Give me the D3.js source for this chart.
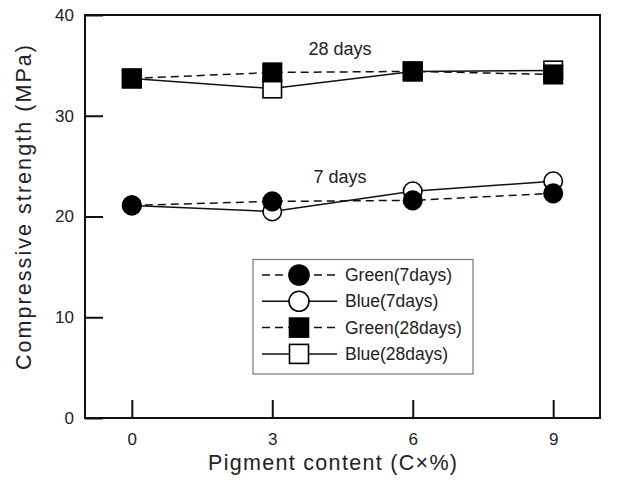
<!DOCTYPE html>
<html>
<head>
<script src="https://cdnjs.cloudflare.com/ajax/libs/d3/7.8.5/d3.min.js"></script>
<style>
  body { margin: 0; background: #fff; }
  svg { display: block; }
  text { font-family: "Liberation Sans", Arial, sans-serif; fill: #222; }
  .axis-title { font-size: 21.5px; }
  .note { font-size: 18px; }
  .legend-label { font-size: 17.5px; }
</style>
</head>
<body>
<svg id="chart" width="629" height="483"></svg>
<script>
const pigment = [0, 3, 6, 9];
const green7 = [21.1, 21.5, 21.6, 22.3];
const blue7 = [21.1, 20.5, 22.5, 23.5];
const green28 = [33.7, 34.3, 34.4, 34.1];
const blue28 = [33.7, 32.7, 34.4, 34.5];
const xTicks = [0, 3, 6, 9];
const yTicks = [0, 10, 20, 30, 40];

const series = [
  { name: 'Blue(28days)', values: blue28, shape: 'square', filled: false, dashed: false },
  { name: 'Blue(7days)', values: blue7, shape: 'circle', filled: false, dashed: false },
  { name: 'Green(28days)', values: green28, shape: 'square', filled: true, dashed: true },
  { name: 'Green(7days)', values: green7, shape: 'circle', filled: true, dashed: true }
];
const legendOrder = ['Green(7days)', 'Blue(7days)', 'Green(28days)', 'Blue(28days)'];

const svg = d3.select('#chart');
const mLeft = 85, mRight = 600, mTop = 15, mBottom = 418;

const x = d3.scaleLinear().domain([-1, 10]).range([mLeft, mRight]);
const y = d3.scaleLinear().domain([0, 40]).range([mBottom, mTop]);

// inward ticks
svg.append('g')
  .attr('transform', `translate(0, ${mBottom})`)
  .call(d3.axisBottom(x).tickValues(xTicks).tickSize(-18).tickPadding(15).tickFormat(d3.format('d')))
  .call(g => g.select('.domain').remove())
  .call(g => g.selectAll('line').attr('stroke', '#111').attr('stroke-width', 2))
  .call(g => g.selectAll('text').attr('fill', '#222').style('font-size', '17px')
    .style('font-family', '"Liberation Sans", Arial, sans-serif'));

svg.append('g')
  .attr('transform', `translate(${mLeft}, 0)`)
  .call(d3.axisLeft(y).tickValues(yTicks).tickSize(-18).tickPadding(11))
  .call(g => g.select('.domain').remove())
  .call(g => g.selectAll('line').attr('stroke', '#111').attr('stroke-width', 2))
  .call(g => g.selectAll('text').attr('fill', '#222').style('font-size', '17px')
    .style('font-family', '"Liberation Sans", Arial, sans-serif'));

// frame
svg.append('rect')
  .attr('x', mLeft).attr('y', mTop)
  .attr('width', mRight - mLeft).attr('height', mBottom - mTop)
  .attr('fill', 'none').attr('stroke', '#111').attr('stroke-width', 2);

const line = d3.line().x((d, i) => x(pigment[i])).y(d => y(d));

function drawMarker(g, s, cx, cy, size) {
  if (s.shape === 'circle') {
    g.append('circle').attr('cx', cx).attr('cy', cy).attr('r', size / 2)
      .attr('fill', s.filled ? '#000' : '#fff').attr('stroke', '#000').attr('stroke-width', 1.6);
  } else {
    g.append('rect').attr('x', cx - size / 2).attr('y', cy - size / 2)
      .attr('width', size).attr('height', size)
      .attr('fill', s.filled ? '#000' : '#fff').attr('stroke', '#000').attr('stroke-width', 1.6);
  }
}

const plot = svg.append('g');
series.forEach(s => {
  plot.append('path')
    .attr('d', line(s.values))
    .attr('fill', 'none')
    .attr('stroke', '#111')
    .attr('stroke-width', 1.5)
    .attr('stroke-dasharray', s.dashed ? '8,5' : null);
});
series.forEach(s => {
  s.values.forEach((v, i) => drawMarker(plot, s, x(pigment[i]), y(v), 18.5));
});

// annotations
svg.append('text').attr('class', 'note').attr('x', 340).attr('y', 55)
  .attr('text-anchor', 'middle').text('28 days');
svg.append('text').attr('class', 'note').attr('x', 340).attr('y', 183)
  .attr('text-anchor', 'middle').text('7 days');

// legend
const legend = svg.append('g');
legend.append('rect')
  .attr('x', 253).attr('y', 259.5).attr('width', 220).attr('height', 114.5)
  .attr('fill', '#fff').attr('stroke', '#777').attr('stroke-width', 1.2);
legendOrder.forEach((name, i) => {
  const s = series.find(d => d.name === name);
  const cy = 275 + i * 26.3;
  legend.append('line')
    .attr('x1', 262).attr('x2', 337).attr('y1', cy).attr('y2', cy)
    .attr('stroke', '#111').attr('stroke-width', 1.5)
    .attr('stroke-dasharray', s.dashed ? '8,5' : null);
  drawMarker(legend, s, 299, cy, s.shape === 'circle' ? 20 : 19);
  legend.append('text').attr('class', 'legend-label')
    .attr('x', 345).attr('y', cy + 6).text(name);
});

// axis titles
svg.append('text').attr('class', 'axis-title')
  .attr('x', 332.5).attr('y', 470)
  .attr('text-anchor', 'middle')
  .attr('textLength', 249).attr('lengthAdjust', 'spacing')
  .text('Pigment content (C×%)');
svg.append('text').attr('class', 'axis-title')
  .attr('transform', 'translate(31, 207.5) rotate(-90)')
  .attr('text-anchor', 'middle')
  .attr('textLength', 325).attr('lengthAdjust', 'spacing')
  .text('Compressive strength (MPa)');
</script>
</body>
</html>
